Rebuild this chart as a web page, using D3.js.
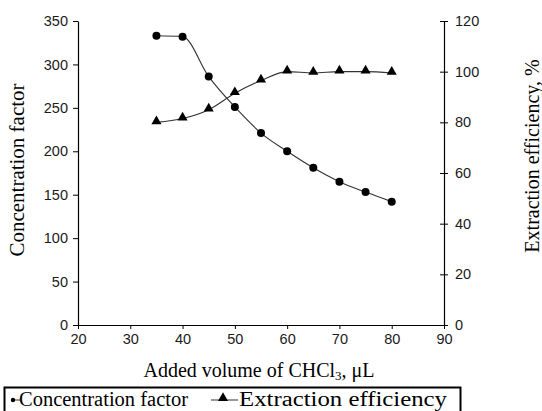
<!DOCTYPE html>
<html>
<head>
<meta charset="utf-8">
<script src="https://cdn.jsdelivr.net/npm/d3@7"></script>
<style>
  body { margin: 0; background: #fff; }
  .tick text { font-family: "Liberation Sans", Arial, sans-serif; font-size: 14.5px; fill: #1a1a1a; }
  .title { font-family: "Liberation Serif", "Times New Roman", "DejaVu Serif", serif; font-size: 20px; fill: #000; }
</style>
</head>
<body>
<div class="chart"></div>
<script>
// data
const volumes = [35, 40, 45, 50, 55, 60, 65, 70, 75, 80];
const concFactor = [333, 332, 286, 251, 221, 200, 181, 165, 153, 142];
const extEfficiency = [80, 81.5, 85, 91.5, 96.5, 100, 99.5, 100, 100, 99.5];
const xTicks = [20, 30, 40, 50, 60, 70, 80, 90];
const yLeftTicks = [0, 50, 100, 150, 200, 250, 300, 350];
const yRightTicks = [0, 20, 40, 60, 80, 100, 120];

const width = 542, height = 411;
const margin = { top: 21, right: 98, bottom: 86, left: 78 };
const widthChart = width - margin.left - margin.right;
const heightChart = height - margin.top - margin.bottom;

const svg = d3.select('.chart')
  .append('svg')
  .attr('width', width)
  .attr('height', height);

const g = svg.append('g')
  .attr('transform', `translate(${margin.left},${margin.top})`);

// scales
const xScale = d3.scaleLinear().domain([20, 90]).range([0, widthChart]);
const yLeft = d3.scaleLinear().domain([0, 350]).range([heightChart, 0]);
const yRight = d3.scaleLinear().domain([0, 120]).range([heightChart, 0]);

// axes
const xAxis = d3.axisBottom(xScale).tickValues(xTicks).tickSizeInner(4).tickSizeOuter(0).tickPadding(5);
const yAxisL = d3.axisLeft(yLeft).tickValues(yLeftTicks).tickSizeInner(5).tickSizeOuter(0).tickPadding(5);
const yAxisR = d3.axisRight(yRight).tickValues(yRightTicks).tickSizeInner(4).tickSizeOuter(0).tickPadding(7);

const styleAxis = sel => {
  sel.select('.domain').attr('stroke', '#000').attr('stroke-width', 1.2);
  sel.selectAll('.tick line').attr('stroke', '#000');
};

g.append('g')
  .attr('transform', `translate(0,${heightChart})`)
  .call(xAxis)
  .call(styleAxis);

g.append('g')
  .call(yAxisL)
  .call(styleAxis);

const rAxis = g.append('g')
  .attr('transform', `translate(${widthChart},0)`)
  .call(yAxisR)
  .call(styleAxis);
// right axis ticks cross the axis line
rAxis.selectAll('.tick line').attr('x1', -4);

// lines
const lineConc = d3.line()
  .x((d, i) => xScale(volumes[i]))
  .y(d => yLeft(d))
  .curve(d3.curveMonotoneX);
const lineExt = d3.line()
  .x((d, i) => xScale(volumes[i]))
  .y(d => yRight(d))
  .curve(d3.curveMonotoneX);

g.append('path')
  .datum(concFactor)
  .attr('d', lineConc)
  .attr('fill', 'none')
  .attr('stroke', '#333')
  .attr('stroke-width', 1.1);

g.append('path')
  .datum(extEfficiency)
  .attr('d', lineExt)
  .attr('fill', 'none')
  .attr('stroke', '#333')
  .attr('stroke-width', 1.1);

// markers
g.append('g')
  .selectAll('circle')
  .data(concFactor)
  .enter()
  .append('circle')
  .attr('cx', (d, i) => xScale(volumes[i]))
  .attr('cy', d => yLeft(d))
  .attr('r', 4)
  .attr('fill', '#000');

const tri = d3.symbol().type(d3.symbolTriangle).size(44);
g.append('g')
  .selectAll('path')
  .data(extEfficiency)
  .enter()
  .append('path')
  .attr('d', tri)
  .attr('transform', (d, i) => `translate(${xScale(volumes[i])},${yRight(d) - 1})`)
  .attr('fill', '#000');

// axis titles
svg.append('text')
  .attr('class', 'title')
  .attr('x', 259)
  .attr('y', 377)
  .attr('text-anchor', 'middle')
  .html('Added volume of CHCl<tspan font-size="13px" dy="3">3</tspan><tspan dy="-3">, μL</tspan>');

svg.append('text')
  .attr('class', 'title')
  .attr('transform', 'translate(24,170) rotate(-90)')
  .attr('text-anchor', 'middle')
  .style('font-size', '21px')
  .text('Concentration factor');

svg.append('text')
  .attr('class', 'title')
  .attr('transform', 'translate(539,156) rotate(-90)')
  .attr('text-anchor', 'middle')
  .text('Extraction efficiency, %');

// legend
const legend = svg.append('g');
legend.append('rect')
  .attr('x', 4.5)
  .attr('y', 387.5)
  .attr('width', 456)
  .attr('height', 30)
  .attr('fill', 'none')
  .attr('stroke', '#000')
  .attr('stroke-width', 2);

legend.append('line')
  .attr('x1', 11).attr('x2', 20).attr('y1', 400).attr('y2', 400)
  .attr('stroke', '#333');
legend.append('circle')
  .attr('cx', 13).attr('cy', 400).attr('r', 2.2).attr('fill', '#000');
legend.append('text')
  .attr('class', 'title')
  .attr('x', 19)
  .attr('y', 406)
  .style('font-size', '20px')
  .attr('textLength', 169)
  .attr('lengthAdjust', 'spacingAndGlyphs')
  .text('Concentration factor');

legend.append('line')
  .attr('x1', 211).attr('x2', 238).attr('y1', 400).attr('y2', 400)
  .attr('stroke', '#333');
legend.append('path')
  .attr('d', tri)
  .attr('transform', 'translate(223,398)')
  .attr('fill', '#000');
legend.append('text')
  .attr('class', 'title')
  .attr('x', 239)
  .attr('y', 406)
  .style('font-size', '20px')
  .attr('textLength', 208)
  .attr('lengthAdjust', 'spacingAndGlyphs')
  .text('Extraction efficiency');
</script>
</body>
</html>
